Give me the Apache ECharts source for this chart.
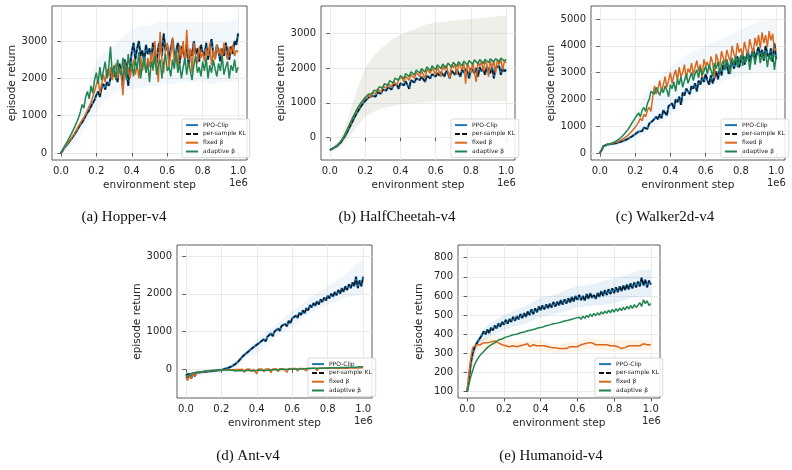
<!DOCTYPE html>
<html>
<head>
<meta charset="utf-8">
<script src="https://cdn.jsdelivr.net/npm/echarts@6/dist/echarts.min.js"></script>
<style>
html, body { margin: 0; padding: 0; background: #fff; }
#main { width: 792px; height: 470px; }
</style>
</head>
<body>
<div id="main"></div>
<script>
// environment steps (x 1e6)
const steps = [
  0, 0.01, 0.02, 0.03, 0.04, 0.05, 0.06, 0.07, 0.08, 0.09,
  0.1, 0.11, 0.12, 0.13, 0.14, 0.15, 0.16, 0.17, 0.18, 0.19,
  0.2, 0.21, 0.22, 0.23, 0.24, 0.25, 0.26, 0.27, 0.28, 0.29,
  0.3, 0.31, 0.32, 0.33, 0.34, 0.35, 0.36, 0.37, 0.38, 0.39,
  0.4, 0.41, 0.42, 0.43, 0.44, 0.45, 0.46, 0.47, 0.48, 0.49,
  0.5, 0.51, 0.52, 0.53, 0.54, 0.55, 0.56, 0.57, 0.58, 0.59,
  0.6, 0.61, 0.62, 0.63, 0.64, 0.65, 0.66, 0.67, 0.68, 0.69,
  0.7, 0.71, 0.72, 0.73, 0.74, 0.75, 0.76, 0.77, 0.78, 0.79,
  0.8, 0.81, 0.82, 0.83, 0.84, 0.85, 0.86, 0.87, 0.88, 0.89,
  0.9, 0.91, 0.92, 0.93, 0.94, 0.95, 0.96, 0.97, 0.98, 0.99, 1.0
];
const bandSteps = [0, 0.05, 0.1, 0.15, 0.2, 0.25, 0.3, 0.35, 0.4, 0.45, 0.5,
  0.55, 0.6, 0.65, 0.7, 0.75, 0.8, 0.85, 0.9, 0.95, 1.0];
const xTicks = [0, 0.2, 0.4, 0.6, 0.8, 1.0];
const seriesNames = ['PPO-Clip', 'per-sample KL', 'fixed β', 'adaptive β'];

// (a) Hopper-v4
const hopperClip = [
  0, 60, 150, 200, 250, 320, 380, 450, 520, 600,
  680, 760, 820, 900, 1000, 1080, 1150, 1250, 1300, 1420,
  1550, 1650, 1500, 1750, 1850, 1700, 1900, 1800, 2000, 2250,
  2050, 2150, 1900, 2400, 2200, 1750, 2500, 2350, 1800, 2300,
  2700, 2950, 2500, 2800, 3000, 2600, 2750, 2400, 2900, 2650,
  2800, 2550, 2950, 2700, 2400, 2850, 3000, 2600, 3200, 2750,
  2900, 2500, 2800, 3050, 2600, 2700, 2950, 2400, 2850, 2700,
  2550, 2900, 2350, 2750, 2600, 3000, 2650, 2800, 2450, 2900,
  2700, 2600, 2950, 2500, 2800, 3050, 2650, 2550, 2900, 2700,
  2450, 2800, 2600, 2950, 2700, 2500, 2850, 2650, 3000, 2900, 3200
];
const hopperFixed = [
  0, 60, 150, 210, 260, 330, 400, 470, 550, 630,
  720, 800, 880, 950, 1050, 1150, 1250, 1350, 1500, 1650,
  1700, 2000, 1600, 1850, 2100, 1900, 2250, 2050, 2300, 1950,
  2200, 2400, 2000, 2300, 2150, 1550, 2450, 2100, 2300, 2000,
  2250, 2500, 2100, 2350, 2000, 2600, 2200, 2450, 2150, 2550,
  2300, 2700, 2200, 3000, 2400, 1900, 3250, 2500, 2150, 2800,
  2950, 2300, 2650, 3100, 2400, 2750, 2200, 2900, 2550, 3000,
  2350, 3300, 2500, 2800, 2150, 2950, 2600, 2400, 2850, 2550,
  2700, 2450, 2800, 2600, 2950, 2350, 2750, 2500, 2900, 2650,
  2800, 2550, 2950, 2700, 2500, 2850, 2650, 2900, 2600, 2750, 2700
];
const hopperAdapt = [
  0, 80, 180, 260, 340, 430, 520, 620, 720, 830,
  950, 1100, 1300, 1200, 1500, 1650, 1450, 1800, 1600, 1950,
  2150, 1850, 2300, 1950, 2200, 2450, 2000, 2300, 2850, 2100,
  2350, 1950, 2500, 2200, 2100, 2550, 2300, 1950, 2650, 2250,
  2400, 2050, 2500, 2250, 2700, 2000, 2350, 2550, 2150, 2400,
  1900, 2450, 2250, 2600, 2100, 2350, 2500, 2000, 2400, 2650,
  2200, 2300, 2050, 2500, 2250, 2750, 2150, 2400, 2000, 2300,
  2550, 2100, 2450, 2200, 1950, 2350, 2600, 2150, 2300, 2050,
  2450, 2200, 2550, 2000, 2350, 2150, 2500, 2250, 2050, 2400,
  2200, 2600, 2100, 2300, 2450, 2000, 2350, 2200, 2500, 2150, 2300
];
const hopperBandLo = [0, 150, 350, 800, 1100, 1400, 1600, 1650, 1700, 1750, 1800,
  1800, 1850, 1850, 1900, 1900, 1900, 1850, 1900, 1900, 1900];
const hopperBandHi = [0, 500, 1000, 1700, 2500, 2700, 2900, 3100, 3300, 3400, 3400,
  3500, 3500, 3500, 3500, 3500, 3500, 3500, 3500, 3550, 3600];

// (b) HalfCheetah-v4
const cheetahClip = [
  -350, -330, -300, -280, -240, -200, -150, -80, 0, 80,
  180, 280, 380, 480, 580, 680, 760, 840, 920, 990,
  1050, 1100, 1150, 1130, 1200, 1250, 1180, 1300, 1330, 1260,
  1380, 1400, 1350, 1450, 1420, 1380, 1500, 1470, 1530, 1400,
  1560, 1580, 1500, 1620, 1600, 1400, 1650, 1680, 1580, 1700,
  1720, 1650, 1750, 1760, 1600, 1780, 1800, 1700, 1820, 1850,
  1750, 1860, 1780, 1880, 1900, 1750, 1920, 1850, 1700, 1930,
  1900, 1800, 1950, 1920, 1750, 1960, 1850, 1980, 1900, 1700,
  1990, 1950, 1850, 2000, 1750, 2020, 1900, 1980, 1800, 2030,
  1950, 1850, 2050, 1700, 2000, 1950, 2060, 1800, 2000, 1900, 1950
];
const cheetahFixed = [
  -350, -330, -300, -270, -230, -180, -120, -50, 40, 130,
  240, 350, 460, 560, 660, 760, 850, 930, 1000, 1070,
  1130, 1180, 1230, 1150, 1300, 1340, 1250, 1400, 1430, 1300,
  1480, 1500, 1420, 1550, 1580, 1450, 1620, 1640, 1500, 1680,
  1700, 1720, 1600, 1760, 1780, 1650, 1820, 1840, 1700, 1870,
  1880, 1750, 1920, 1940, 1700, 1960, 1980, 1850, 2000, 2020,
  1800, 2030, 2050, 1750, 2060, 1950, 2080, 2090, 1700, 2100,
  2000, 2110, 1800, 2120, 2130, 1950, 2140, 1550, 2150, 2100,
  1850, 2160, 2170, 1600, 2180, 2050, 2190, 1900, 2200, 2100,
  1750, 2210, 2000, 2220, 1850, 2230, 2100, 2240, 1950, 2200, 2150
];
const cheetahAdapt = [
  -350, -330, -300, -270, -230, -180, -120, -50, 40, 140,
  250, 360, 470, 580, 680, 780, 870, 950, 1020, 1090,
  1150, 1200, 1250, 1290, 1250, 1360, 1400, 1330, 1460, 1500,
  1420, 1550, 1580, 1500, 1640, 1660, 1560, 1710, 1740, 1650,
  1780, 1800, 1700, 1840, 1860, 1750, 1890, 1910, 1800, 1940,
  1950, 1850, 1980, 2000, 1880, 2030, 2040, 1920, 2060, 2070,
  1950, 2090, 2100, 1980, 2110, 2120, 2000, 2140, 2150, 2020,
  2160, 2170, 2050, 2180, 2190, 2060, 2200, 2200, 2080, 2210,
  2220, 2100, 2230, 2230, 2120, 2240, 2240, 2130, 2250, 2250,
  2150, 2260, 2260, 2170, 2270, 2270, 2180, 2280, 2280, 2200, 2250
];
const cheetahBandLo = [-400, -300, -50, 300, 600, 750, 850, 900, 950, 980, 1000,
  1020, 1050, 1050, 1050, 1050, 1050, 1050, 1050, 1050, 1050];
const cheetahBandHi = [-300, -100, 500, 1300, 2000, 2350, 2600, 2800, 2950, 3050, 3150,
  3250, 3300, 3320, 3350, 3380, 3400, 3420, 3450, 3480, 3500];

// (c) Walker2d-v4
const walkerClip = [
  0, 100, 250, 300, 310, 320, 330, 340, 350, 370,
  380, 400, 420, 440, 470, 500, 530, 570, 610, 650,
  700, 750, 800, 870, 820, 950, 1000, 900, 1100, 1050,
  1200, 1150, 1350, 1250, 1450, 1300, 1600, 1500, 1400, 1750,
  1700, 1850, 1650, 2000, 1900, 2100, 1800, 2250, 2150, 2400,
  2300, 2200, 2500, 2400, 2600, 2300, 2700, 2550, 2850, 2650,
  2950, 2700, 2550, 2900, 2600, 2800, 3050, 2750, 3150, 2900,
  3300, 3100, 3400, 2950, 3250, 3500, 3150, 3350, 3600, 3200,
  3450, 3700, 3300, 3550, 3800, 3400, 3650, 3900, 3500, 3750,
  3950, 3600, 3850, 3450, 4000, 3700, 3550, 3900, 3400, 4100, 3500
];
const walkerFixed = [
  0, 110, 260, 310, 320, 330, 345, 360, 380, 400,
  420, 450, 480, 520, 560, 610, 660, 720, 800, 880,
  950, 1050, 1150, 1300, 1200, 1450, 1350, 1600, 1700, 1550,
  2100, 2500, 2200, 2400, 2700, 2300, 2550, 2850, 2450, 2700,
  3000, 2600, 2900, 3100, 2700, 3200, 2850, 3000, 3300, 2750,
  3150, 3000, 3350, 2900, 3200, 3450, 3050, 3300, 2800, 3500,
  3250, 3400, 3100, 3600, 3350, 2800, 3700, 3450, 3250, 3800,
  3550, 3350, 3850, 3600, 3400, 4000, 3700, 3500, 4100, 3750,
  3900, 3600, 4150, 3850, 3700, 4250, 3950, 3750, 4300, 4000,
  4400, 3900, 4500, 4100, 4400, 3950, 4550, 4200, 4450, 3800, 3900
];
const walkerAdapt = [
  0, 110, 260, 310, 320, 335, 350, 370, 400, 430,
  470, 520, 580, 650, 720, 800, 880, 980, 1100, 1200,
  1300, 1400, 1500, 1350, 1600, 1700, 1550, 1850, 2000, 2300,
  2350, 2200, 2450, 2300, 2150, 2400, 2250, 2500, 2350, 2100,
  2550, 2400, 2650, 2300, 2750, 2550, 2850, 2450, 2700, 2950,
  2600, 2800, 3000, 2700, 2950, 3100, 2800, 3200, 2900, 3050,
  3250, 2950, 3300, 3100, 2850, 3350, 3150, 3400, 3000, 3300,
  3450, 3100, 3500, 3250, 2950, 3550, 3300, 3600, 3200, 3450,
  3650, 3250, 3600, 3400, 3700, 3100, 3550, 3750, 3300, 3650,
  3800, 3350, 3700, 3500, 3800, 3200, 3650, 3450, 3750, 3100, 3600
];
const walkerBandLo = [0, 250, 300, 350, 500, 700, 900, 1100, 1400, 1700, 2000,
  2200, 2400, 2550, 2700, 2800, 2900, 2950, 3000, 3000, 3000];
const walkerBandHi = [0, 350, 500, 900, 1500, 2100, 2600, 2900, 3200, 3450, 3700,
  3850, 4000, 4150, 4300, 4450, 4600, 4750, 4900, 4950, 5000];

// (d) Ant-v4
const antClip = [
  -150, -200, -120, -250, -100, -180, -90, -130, -80, -110,
  -70, -90, -60, -70, -50, -55, -40, -45, -30, -35,
  -20, -15, 10, 20, 40, 60, 80, 110, 140, 180,
  230, 280, 340, 310, 420, 380, 500, 460, 580, 530,
  650, 600, 720, 680, 800, 740, 860, 820, 950, 880,
  1000, 960, 1080, 1020, 1150, 1100, 1200, 1140, 1280, 1220,
  1350, 1300, 1420, 1360, 1500, 1440, 1560, 1480, 1620, 1560,
  1700, 1640, 1750, 1680, 1800, 1720, 1850, 1780, 1900, 1820,
  1950, 1880, 2000, 1920, 2050, 1960, 2100, 2000, 2150, 2050,
  2200, 2100, 2250, 2150, 2300, 2200, 2450, 2150, 2350, 2200, 2450
];
const antFixed = [
  -200, -300, -150, -250, -120, -180, -100, -90, -80, -70,
  -60, -55, -50, -45, -40, -35, -30, -30, -25, -20,
  -20, -15, -15, -10, -10, -60, -10, -5, -5, -50,
  -5, 0, 0, -80, 0, 0, 5, -60, 5, 5,
  -120, 5, 10, 5, -70, 10, 10, 10, -90, 10,
  10, 15, -60, 15, 15, 15, 15, -80, 15, 20,
  20, 20, 20, -50, 20, 20, 20, 20, -40, 20,
  25, 25, 25, 25, -30, 25, 25, 25, 25, 30,
  30, 30, 30, 30, 30, 30, 30, 30, 30, 30,
  30, 30, 30, 35, 35, 35, 35, 35, 35, 40, 40
];
const antAdapt = [
  -150, -220, -130, -180, -100, -140, -80, -90, -70, -60,
  -55, -50, -45, -40, -35, -30, -30, -25, -20, -20,
  -15, -15, -20, -25, -20, -40, -25, -30, -45, -30,
  -35, -30, -40, -35, -30, -45, -35, -30, -40, -35,
  -30, -30, -25, -35, -25, -20, -30, -20, -15, -25,
  -15, -10, -15, -10, -5, -10, 0, -5, 0, 5,
  0, 5, 10, 5, 10, 15, 10, 15, 20, 15,
  20, 20, 25, 20, 25, 30, 25, 30, 35, 30,
  35, 35, 40, 35, 40, 45, 40, 45, 50, 45,
  50, 50, 55, 50, 55, 60, 55, 60, 65, 60, 65
];
const antBandLo = [-300, -220, -150, -120, -100, -60, 100, 350, 400, 650, 800,
  1000, 1100, 1300, 1500, 1600, 1700, 1800, 1900, 1950, 2000];
const antBandHi = [-50, -40, -20, 0, 50, 100, 300, 550, 800, 1000, 1150,
  1350, 1550, 1700, 1900, 2050, 2200, 2350, 2500, 2750, 2900];

// (e) Humanoid-v4
const humanClip = [
  100, 170, 250, 300, 330, 350, 365, 380, 395, 415,
  400, 425, 405, 435, 420, 445, 430, 455, 440, 465,
  450, 475, 455, 480, 465, 490, 470, 495, 478, 505,
  485, 510, 490, 520, 500, 530, 505, 535, 515, 545,
  525, 550, 530, 555, 535, 560, 540, 568, 545, 570,
  550, 578, 555, 582, 560, 588, 565, 595, 570, 600,
  580, 605, 578, 600, 575, 610, 585, 615, 590, 605,
  585, 615, 595, 625, 600, 630, 605, 635, 610, 640,
  615, 645, 620, 650, 625, 655, 630, 660, 635, 665,
  640, 670, 645, 675, 650, 695, 655, 685, 645, 680, 660
];
const humanFixed = [
  100, 200, 280, 330, 340, 345, 350, 345, 350, 355,
  350, 355, 350, 360, 355, 365, 360, 355, 350, 345,
  350, 340, 345, 335, 345, 340, 350, 335, 345, 340,
  335, 345, 340, 350, 335, 340, 345, 335, 340, 345,
  340, 335, 340, 330, 335, 325, 330, 325, 330, 320,
  325, 320, 325, 330, 325, 330, 335, 330, 335, 340,
  335, 340, 345, 340, 350, 345, 355, 350, 355, 350,
  345, 350, 345, 340, 345, 340, 345, 335, 340, 345,
  340, 345, 335, 330, 325, 320, 330, 335, 340, 345,
  340, 345, 340, 345, 340, 345, 350, 340, 345, 340, 345
];
const humanAdapt = [
  100, 140, 180, 210, 240, 260, 275, 290, 300, 310,
  320, 330, 335, 345, 350, 355, 360, 370, 365, 375,
  380, 385, 378, 390, 384, 397, 388, 400, 393, 408,
  401, 412, 404, 418, 409, 422, 414, 427, 419, 434,
  426, 437, 431, 444, 436, 449, 440, 455, 446, 458,
  450, 463, 455, 469, 459, 473, 464, 478, 469, 484,
  474, 489, 478, 494, 483, 499, 488, 505, 492, 509,
  497, 512, 500, 517, 505, 521, 509, 526, 512, 530,
  516, 533, 519, 537, 523, 541, 527, 546, 531, 550,
  535, 555, 540, 548, 565, 545, 580, 560, 575, 550, 560
];
const humanBlueLo = [100, 320, 370, 400, 420, 440, 450, 470, 490, 500, 510,
  525, 540, 545, 550, 555, 560, 575, 590, 595, 600];
const humanBlueHi = [100, 370, 440, 470, 500, 520, 540, 565, 590, 600, 615,
  635, 650, 655, 665, 680, 690, 705, 720, 735, 740];
const humanOrangeLo = [100, 315, 320, 325, 320, 315, 315, 315, 315, 305, 300,
  305, 310, 320, 320, 315, 310, 315, 315, 315, 320];
const humanOrangeHi = [100, 370, 380, 390, 375, 365, 360, 370, 370, 350, 345,
  355, 360, 380, 375, 370, 365, 370, 370, 370, 370];

const BLUE = '#1f77b4', BLACK = '#111', ORANGE = '#d9681c', GREEN = '#22844f';

const panels = [
  { grid: { left: 52, top: 6, width: 195, height: 154 }, yMin: -188, yMax: 3938, yTicks: [0, 1000, 2000, 3000],
    lines: [hopperClip, hopperClip, hopperFixed, hopperAdapt],
    bands: [[hopperBandLo, hopperBandHi, 'rgba(31,119,180,0.06)']],
    caption: '(a) Hopper-v4', capX: 124, capY: 217, legend: { left: 182, top: 119 } },
  { grid: { left: 321, top: 6, width: 194, height: 154 }, yMin: -639, yMax: 3774, yTicks: [0, 1000, 2000, 3000],
    lines: [cheetahClip, cheetahClip, cheetahFixed, cheetahAdapt],
    bands: [[cheetahBandLo, cheetahBandHi, 'rgba(150,150,110,0.15)']],
    caption: '(b) HalfCheetah-v4', capX: 397, capY: 217, legend: { left: 451, top: 119 } },
  { grid: { left: 591, top: 6, width: 194, height: 154 }, yMin: -261, yMax: 5485, yTicks: [0, 1000, 2000, 3000, 4000, 5000],
    lines: [walkerClip, walkerClip, walkerFixed, walkerAdapt],
    bands: [[walkerBandLo, walkerBandHi, 'rgba(31,119,180,0.06)']],
    caption: '(c) Walker2d-v4', capX: 665, capY: 217, legend: { left: 721, top: 119 } },
  { grid: { left: 177, top: 245, width: 195, height: 153 }, yMin: -760, yMax: 3291, yTicks: [0, 1000, 2000, 3000],
    lines: [antClip, antClip, antFixed, antAdapt],
    bands: [[antBandLo, antBandHi, 'rgba(31,119,180,0.07)']],
    caption: '(d) Ant-v4', capX: 248, capY: 456, legend: { left: 308, top: 358 } },
  { grid: { left: 458, top: 245, width: 202, height: 153 }, yMin: 67, yMax: 866, yTicks: [100, 200, 300, 400, 500, 600, 700, 800],
    lines: [humanClip, humanClip, humanFixed, humanAdapt],
    bands: [[humanBlueLo, humanBlueHi, 'rgba(31,119,180,0.1)'], [humanOrangeLo, humanOrangeHi, 'rgba(255,127,14,0.1)']],
    caption: '(e) Humanoid-v4', capX: 551, capY: 456, legend: { left: 595, top: 358 } }
];

const lineStyles = [
  { color: BLUE, width: 2.2, type: 'solid' },
  { color: BLACK, width: 1.3, type: [4, 2] },
  { color: ORANGE, width: 1.5, type: 'solid' },
  { color: GREEN, width: 1.5, type: 'solid' }
];
// legend line icons (solid / dashed)
const solidIcon = 'path://M0,0H12V2H0Z';
const dashIcon = 'path://M0,0H5V2H0Z M7,0H12V2H7Z';
const legendItems = [
  { name: seriesNames[0], icon: solidIcon },
  { name: seriesNames[1], icon: dashIcon },
  { name: seriesNames[2], icon: solidIcon },
  { name: seriesNames[3], icon: solidIcon }
];

const grids = [], xAxes = [], yAxes = [], series = [], legends = [], graphics = [];
const tickColor = '#333', labelColor = '#262626';

function bandSeries(gi, lo, hi, color) {
  return {
    type: 'custom', xAxisIndex: gi, yAxisIndex: gi, silent: true, z: 1, clip: true,
    data: bandSteps.map(function (x, i) { return [x, lo[i], hi[i]]; }),
    encode: { x: 0, y: [1, 2] },
    renderItem: function (params, api) {
      if (params.dataIndex !== 0) return null;
      const top = [], bottom = [];
      for (let i = 0; i < bandSteps.length; i++) {
        top.push(api.coord([bandSteps[i], hi[i]]));
        bottom.unshift(api.coord([bandSteps[i], lo[i]]));
      }
      return { type: 'polygon', shape: { points: top.concat(bottom) }, style: { fill: color } };
    }
  };
}

panels.forEach(function (p, gi) {
  grids.push(Object.assign({ show: true, borderColor: '#333', borderWidth: 0.8, backgroundColor: '#fff', containLabel: false }, p.grid));
  xAxes.push({
    type: 'value', gridIndex: gi, min: -0.05, max: 1.05,
    name: 'environment step', nameLocation: 'middle', nameGap: 20,
    nameTextStyle: { fontSize: 10.5, color: labelColor, fontFamily: 'DejaVu Sans' },
    axisLine: { show: false },
    axisTick: { show: true, customValues: xTicks, length: 3.5, lineStyle: { color: tickColor, width: 0.8 } },
    axisLabel: { customValues: xTicks, fontSize: 10, color: labelColor, fontFamily: 'DejaVu Sans', margin: 6,
      formatter: function (v) { return v.toFixed(1); } },
    splitLine: { show: true, lineStyle: { color: '#e6e6e6', width: 0.8 } }
  });
  yAxes.push({
    type: 'value', gridIndex: gi, min: p.yMin, max: p.yMax,
    name: 'episode return', nameLocation: 'middle', nameGap: 33,
    nameTextStyle: { fontSize: 10.5, color: labelColor, fontFamily: 'DejaVu Sans' },
    axisLine: { show: false },
    axisTick: { show: true, customValues: p.yTicks, length: 3.5, lineStyle: { color: tickColor, width: 0.8 } },
    axisLabel: { customValues: p.yTicks, fontSize: 10, color: labelColor, fontFamily: 'DejaVu Sans', margin: 5,
      formatter: function (v) { return String(Math.round(v)); } },
    splitLine: { show: true, lineStyle: { color: '#e6e6e6', width: 0.8 } }
  });

  // shaded std bands
  p.bands.forEach(function (b) {
    series.push(bandSeries(gi, b[0], b[1], b[2]));
  });

  p.lines.forEach(function (ys, si) {
    const ls = lineStyles[si];
    series.push({
      name: seriesNames[si], type: 'line', xAxisIndex: gi, yAxisIndex: gi,
      symbol: 'none', showSymbol: false,
      data: steps.map(function (x, i) { return [x, ys[i]]; }),
      lineStyle: { color: ls.color, width: ls.width, type: ls.type },
      itemStyle: { color: ls.color }, z: 2 + si
    });
  });

  legends.push({
    data: legendItems, left: p.legend.left, top: p.legend.top, orient: 'vertical',
    itemWidth: 12, itemHeight: 2, itemGap: 2.6, padding: [3, 4, 3, 4],
    backgroundColor: 'rgba(255,255,255,0.85)', borderColor: '#cfcfcf', borderWidth: 0.8, borderRadius: 2,
    textStyle: { fontSize: 6, lineHeight: 6.2, color: '#222', fontFamily: 'DejaVu Sans' },
    selectedMode: false
  });

  graphics.push({
    type: 'text', left: p.grid.left + p.grid.width - 18, top: p.grid.top + p.grid.height + 18,
    style: { text: '1e6', fontSize: 10, fill: labelColor, fontFamily: 'DejaVu Sans' }
  });
  graphics.push({
    type: 'text', x: p.capX, y: p.capY,
    style: { text: p.caption, fontSize: 15, fill: '#111', fontFamily: 'Liberation Serif', align: 'center', verticalAlign: 'middle' }
  });
});

const chart = echarts.init(document.getElementById('main'), null, { renderer: 'canvas' });
chart.setOption({
  animation: false,
  backgroundColor: '#fff',
  grid: grids,
  xAxis: xAxes,
  yAxis: yAxes,
  legend: legends,
  graphic: graphics,
  series: series
});
</script>
</body>
</html>
